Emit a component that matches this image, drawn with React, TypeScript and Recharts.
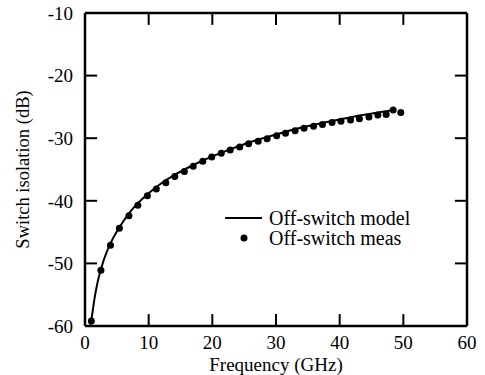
import { ComposedChart, Line, Scatter, XAxis, YAxis, ReferenceLine } from "recharts";

// frequency (GHz) / isolation (dB)
const modelFreq = [0.8, 1, 1.5, 2, 3, 4, 5, 6, 7, 8, 10, 12, 14, 16, 18, 20, 23, 26, 30, 34, 38, 42, 46, 48.5];
const modelDb = [-60, -59.0, -55.6, -52.9, -49.3, -46.8, -44.9, -43.3, -41.9, -40.7, -38.8, -37.2, -35.9, -34.8, -33.8, -32.9, -31.7, -30.6, -29.4, -28.3, -27.4, -26.6, -25.9, -25.5];

const measFreq = [1.0, 2.5, 4.0, 5.4, 6.9, 8.3, 9.8, 11.2, 12.7, 14.1, 15.6, 17.0, 18.5, 19.9, 21.4, 22.8, 24.3, 25.7, 27.2, 28.6, 30.1, 31.5, 33.0, 34.4, 35.9, 37.3, 38.8, 40.2, 41.7, 43.1, 44.6, 46.0, 47.3, 48.4, 49.6];
const measDb = [-59.2, -51.1, -47.1, -44.4, -42.4, -40.7, -39.2, -38.1, -37.1, -36.1, -35.3, -34.5, -33.7, -33.0, -32.4, -31.9, -31.4, -30.9, -30.5, -30.1, -29.6, -29.2, -28.8, -28.4, -28.1, -27.8, -27.5, -27.3, -27.1, -26.9, -26.6, -26.3, -26.2, -25.5, -25.9];

const xTicks = [0, 10, 20, 30, 40, 50, 60];
const yTicks = [-60, -50, -40, -30, -20, -10];
const xInner = [10, 20, 30, 40, 50];
const yInner = [-50, -40, -30, -20];

const model = modelFreq.map((f, i) => ({ f, db: modelDb[i] }));
const meas = measFreq.map((f, i) => ({ f, db: measDb[i] }));

const FONT = "'Liberation Serif', 'Times New Roman', serif";
const X_MIN = 0, X_MAX = 60, Y_MIN = -60, Y_MAX = -10;
// inward tick length, in data units (~12px each way)
const TICK_DX = 1.9;
const TICK_DY = 1.9;

const axisLine = { stroke: "#000", strokeWidth: 2.5 };
const tickText = { fill: "#000", fontFamily: FONT, fontSize: 19 };
const noText = { fill: "transparent", fontSize: 1 };

function LegendBox() {
  return (
    <svg width={230} height={50} style={{ position: "absolute", left: 225, top: 205, fontFamily: FONT }}>
      <line x1={0} y1={13} x2={37} y2={13} stroke="#000" strokeWidth={2} />
      <text x={44} y={20} fontSize={20} fill="#000">Off-switch model</text>
      <circle cx={19} cy={33} r={3.5} fill="#000" />
      <text x={44} y={40} fontSize={20} fill="#000">Off-switch meas</text>
    </svg>
  );
}

export default function App() {
  const tickSegs: { x: number; y: number }[][] = [
    ...xInner.map((v) => [{ x: v, y: Y_MIN }, { x: v, y: Y_MIN + TICK_DY }]),
    ...xInner.map((v) => [{ x: v, y: Y_MAX }, { x: v, y: Y_MAX - TICK_DY }]),
    ...yInner.map((v) => [{ x: X_MIN, y: v }, { x: X_MIN + TICK_DX, y: v }]),
    ...yInner.map((v) => [{ x: X_MAX, y: v }, { x: X_MAX - TICK_DX, y: v }]),
  ];
  return (
    <div style={{ position: "absolute", left: 0, top: 0, width: 485, height: 375, background: "#fff" }}>
      <ComposedChart width={485} height={375} margin={{ top: 0, right: 0, bottom: 0, left: 0 }}>
        <XAxis
          dataKey="f"
          type="number"
          domain={[X_MIN, X_MAX]}
          ticks={xTicks}
          interval={0}
          height={49}
          tickSize={0}
          tickMargin={10}
          tickLine={false}
          axisLine={axisLine}
          tick={tickText}
          label={{ value: "Frequency (GHz)", position: "insideBottom", offset: 4, fill: "#000", fontFamily: FONT, fontSize: 19 }}
        />
        <YAxis
          type="number"
          domain={[Y_MIN, Y_MAX]}
          ticks={yTicks}
          interval={0}
          width={85}
          tickSize={0}
          tickMargin={12}
          tickLine={false}
          axisLine={axisLine}
          tick={tickText}
          label={{ value: "Switch isolation (dB)", angle: -90, position: "insideLeft", offset: 22, textAnchor: "middle", fill: "#000", fontFamily: FONT, fontSize: 18.5 }}
        />
        {/* frame: top / right */}
        <XAxis xAxisId="top" orientation="top" type="number" domain={[X_MIN, X_MAX]} ticks={xInner} height={13} tickSize={0} tickLine={false} axisLine={axisLine} tick={noText} />
        <YAxis yAxisId="right" orientation="right" type="number" domain={[Y_MIN, Y_MAX]} ticks={yInner} width={18} tickSize={0} tickLine={false} axisLine={axisLine} tick={noText} />
        {tickSegs.map((seg, i) => (
          <ReferenceLine key={i} segment={seg} stroke="#000" strokeWidth={2} ifOverflow="visible" />
        ))}
        <Line
          data={model}
          dataKey="db"
          type="monotone"
          stroke="#000"
          strokeWidth={2}
          dot={false}
          isAnimationActive={false}
        />
        <Scatter
          data={meas}
          dataKey="db"
          fill="#000"
          shape={(p: any) => <circle cx={p.cx} cy={p.cy} r={3.5} fill="#000" />}
          isAnimationActive={false}
        />
      </ComposedChart>
      <LegendBox />
    </div>
  );
}
